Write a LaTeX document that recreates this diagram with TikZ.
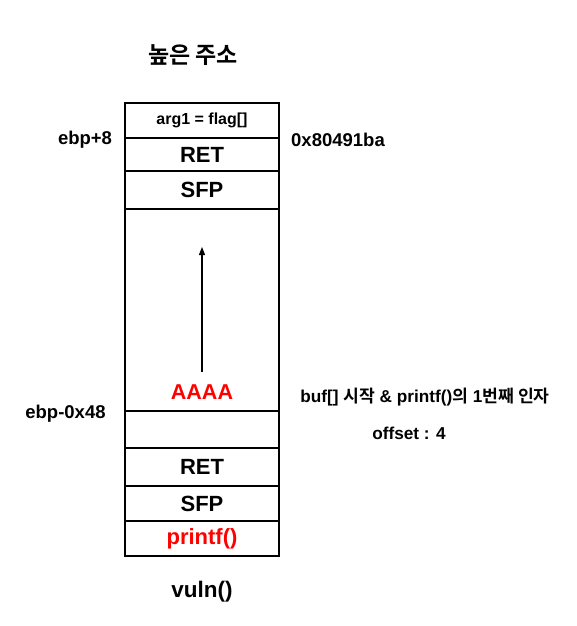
\documentclass[tikz,border=0pt]{standalone}
\usepackage{fontspec}
\setmainfont{Liberation Sans}
\newfontfamily\kr{Noto Sans CJK KR}[BoldFont={Noto Sans CJK KR Bold}]
\usepackage{tikz}
\usetikzlibrary{positioning}
\usetikzlibrary{arrows.meta}

\begin{document}
\begin{tikzpicture}[x=1pt, y=-1pt,
        every node/.style = {inner sep=0pt},
        cell/.style = {draw, line width=1.4pt, minimum width=154pt, font=\bfseries\fontsize{22}{22}\selectfont},
        lbl/.style = {font=\bfseries\fontsize{18.5}{18.5}\selectfont},
        note/.style = {font=\bfseries\fontsize{17.2}{17.2}\selectfont}
        ]
        \useasboundingbox (0,0) rectangle (576,626);
        \node (title) at (193,55) {\kr\bfseries\fontsize{23}{23}\selectfont 높은 주소};
        % upper frame
        \node[cell, minimum height=35pt] (1) at (202,120.5) {\fontsize{16}{16}\selectfont arg1 = flag[]};
        \node[cell, minimum height=33pt] (2) at (202,154.5) {RET};
        \node[cell, minimum height=38pt] (3) at (202,190) {SFP};
        \node[cell, minimum height=202pt] (4) at (202,310) {};
        % lower frame
        \node[cell, minimum height=37pt] (5) at (202,429.5) {};
        \node[cell, minimum height=38pt] (6) at (202,467) {RET};
        \node[cell, minimum height=35pt] (7) at (202,503.5) {SFP};
        \node[cell, minimum height=35pt, text=red] (8) at (202,538.5) {printf()};
        \node[font=\bfseries\fontsize{21.5}{21.5}\selectfont, text=red] (aaaa) at (202,392) {AAAA};
        \coordinate (bottom) at (202,372);
        \coordinate (top) at (202,247);
        \draw[-{Triangle[length=8pt, width=6pt]}, line width=1.3pt] (bottom) -- (top);
        \node[font=\bfseries\fontsize{22.5}{22.5}\selectfont] (vuln) at (202,592) {vuln()};
        % side labels
        \node[lbl] (ebp8) at (85,140) {ebp+8};
        \node[lbl] (ret) at (338,140) {0x80491ba};
        \node[lbl] (ebp48) at (65.5,414) {ebp-0x48};
        \node[note] (buf) at (425,397) {buf[] {\kr\bfseries 시작} \& printf(){\kr\bfseries 의} 1{\kr\bfseries 번째 인자}};
        \node[note] (off) at (409,433) {offset : 4};
\end{tikzpicture}
\end{document}
